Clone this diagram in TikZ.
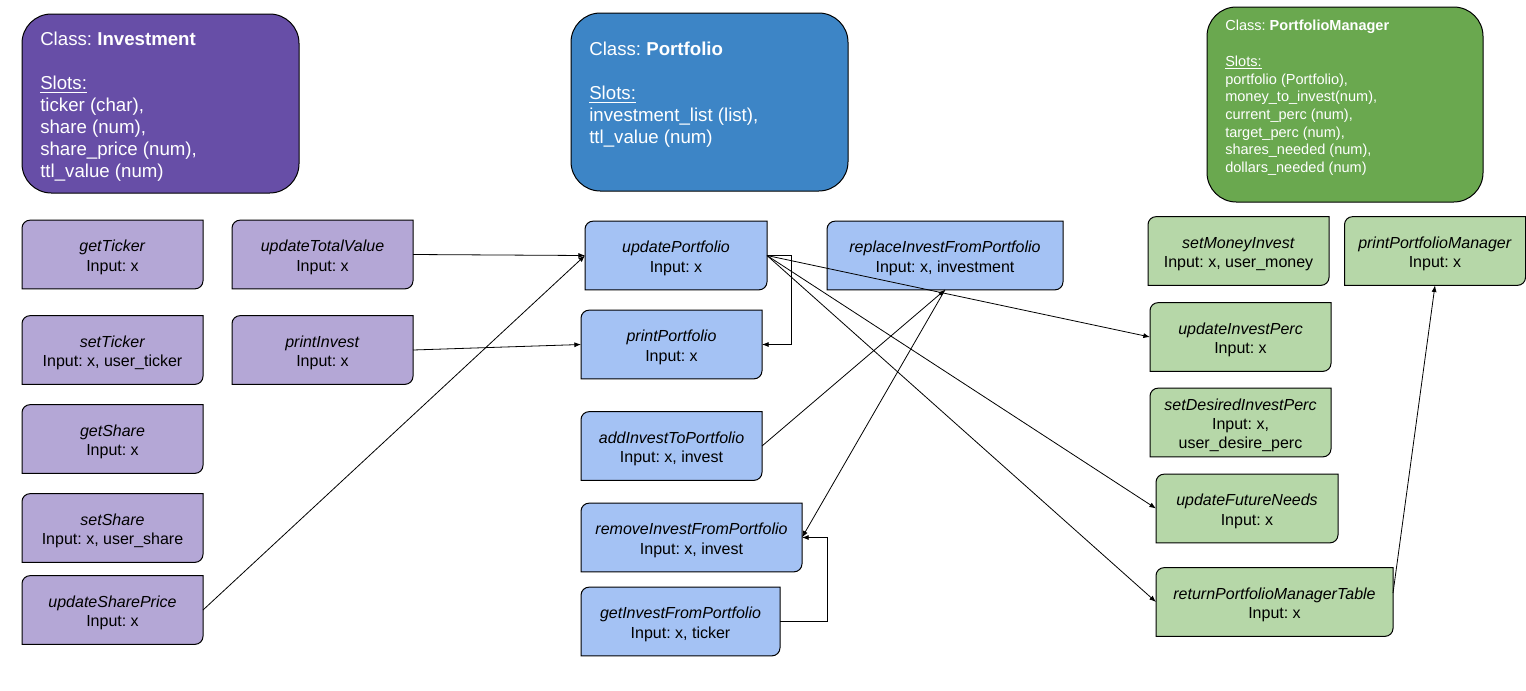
\documentclass[tikz,border=0pt]{standalone}
\usepackage{fontspec}
\setmainfont{Liberation Sans}
\usetikzlibrary{arrows.meta,backgrounds}
\frenchspacing

\definecolor{invdark}{HTML}{674EA7}
\definecolor{invlight}{HTML}{B4A7D6}
\definecolor{portdark}{HTML}{3D85C6}
\definecolor{portlight}{HTML}{A4C2F4}
\definecolor{mgrdark}{HTML}{6AA84F}
\definecolor{mgrlight}{HTML}{B6D7A8}

\newcommand{\methname}[1]{\rule{0pt}{13pt}\textit{#1}}

\tikzset{
    method/.style={align=center, inner sep=0pt, outer sep=0pt, minimum width=135.75pt, minimum height=51.5pt, font=\fontsize{12}{14.5}\selectfont},
    methshape/.style={draw=black, line width=0.75pt, fill=#1},
    classbox/.style={draw=black, line width=0.75pt, rounded corners=22pt, fill=#1, inner sep=0pt, outer sep=0pt},
    classtext/.style={align=left, anchor=north west, inner sep=0pt, text=white, font=\fontsize{14}{16.5}\selectfont},
    link/.style={-{Latex[length=5pt,width=3.8pt]}, line width=0.6pt}
}

\begin{document}
\begin{tikzpicture}[x=0.75pt,y=-0.75pt]
    \useasboundingbox (0,0) rectangle (1526,690);

    % classes
    \node[classbox=invdark, minimum width=207.75pt, minimum height=134.25pt] (investment) at (160.5,103.5) {};
    \node[classtext] (investmentText) at (40,32) {Class: \textbf{Investment}\\ \\ \underline{Slots:}\\ ticker (char),\\ share (num),\\ share\_price (num),\\ ttl\_value (num)};
    \node[classbox=portdark, minimum width=207.75pt, minimum height=133.5pt] (portfolio) at (709.5,102) {};
    \node[classtext] (portfolioText) at (589,42) {Class: \textbf{Portfolio}\\ \\ \underline{Slots:}\\ investment\_list (list),\\ ttl\_value (num)};
    \node[classbox=mgrdark, minimum width=207pt, minimum height=146.25pt] (manager) at (1345,104.5) {};
    \node[classtext, font=\fontsize{10.9}{13.3}\selectfont] (managerText) at (1225,20) {Class: \textbf{PortfolioManager}\\ \\ \underline{Slots:}\\ portfolio (Portfolio),\\ money\_to\_invest(num),\\ current\_perc (num),\\ target\_perc (num),\\ shares\_needed (num),\\ dollars\_needed (num)};

    % Investment methods
    \node[method] (getTicker) at (112.5,254.5) {\methname{getTicker}\\ Input: x};
    \node[method] (updateTotalValue) at (322.5,254.5) {\methname{updateTotalValue}\\ Input: x};
    \node[method] (setTicker) at (112.5,350) {\methname{setTicker}\\ Input: x, user\_ticker};
    \node[method] (printInvest) at (322.5,350) {\methname{printInvest}\\ Input: x};
    \node[method] (getShare) at (112.5,439) {\methname{getShare}\\ Input: x};
    \node[method] (setShare) at (112.5,528) {\methname{setShare}\\ Input: x, user\_share};
    \node[method] (updateSharePrice) at (112.5,610) {\methname{updateSharePrice}\\ Input: x};

    % Portfolio methods
    \node[method, minimum width=136.5pt] (updatePortfolio) at (676,255.5) {\methname{updatePortfolio}\\ Input: x};
    \node[method] (printPortfolio) at (671.5,344.5) {\methname{printPortfolio}\\ Input: x};
    \node[method, minimum width=177pt] (replaceInvest) at (945,255.5) {\methname{replaceInvestFromPortfolio}\\ Input: x, investment};
    \node[method] (addInvest) at (671.5,446) {\methname{addInvestToPortfolio}\\ Input: x, invest};
    \node[method, minimum width=165.75pt] (removeInvest) at (691.5,537.5) {\methname{removeInvestFromPortfolio}\\ Input: x, invest};
    \node[method, minimum width=149.25pt] (getInvest) at (680.5,621.5) {\methname{getInvestFromPortfolio}\\ Input: x, ticker};

    % PortfolioManager methods
    \node[method] (setMoneyInvest) at (1238.5,251) {\methname{setMoneyInvest}\\ Input: x, user\_money};
    \node[method] (printManager) at (1435,251) {\methname{printPortfolioManager}\\ Input: x};
    \node[method] (updateInvestPerc) at (1240.5,337) {\methname{updateInvestPerc}\\ Input: x};
    \node[method] (setDesiredPerc) at (1240.5,422.5) {\methname{setDesiredInvestPerc}\\ Input: x,\\ user\_desire\_perc};
    \node[method, minimum width=136.5pt] (updateFutureNeeds) at (1247,508.5) {\methname{updateFutureNeeds}\\ Input: x};
    \node[method, minimum width=177.75pt] (returnTable) at (1274.5,602) {\methname{returnPortfolioManagerTable}\\ Input: x};

    \begin{scope}[on background layer]
        \foreach \n/\c in {getTicker/invlight, updateTotalValue/invlight, setTicker/invlight, printInvest/invlight, getShare/invlight, setShare/invlight, updateSharePrice/invlight,
                updatePortfolio/portlight, printPortfolio/portlight, replaceInvest/portlight, addInvest/portlight, removeInvest/portlight, getInvest/portlight,
                setMoneyInvest/mgrlight, printManager/mgrlight, updateInvestPerc/mgrlight, setDesiredPerc/mgrlight, updateFutureNeeds/mgrlight, returnTable/mgrlight}
            \draw[methshape=\c] ([yshift=-6pt]\n.north west) arc[start angle=180, end angle=90, radius=6pt] -- (\n.north east)
                -- ([yshift=6pt]\n.south east) arc[start angle=0, end angle=-90, radius=6pt] -- (\n.south west) -- cycle;
    \end{scope}

    % calls
    \draw[link] (updateTotalValue.east) -- (updatePortfolio.west);
    \draw[link] (updateSharePrice.east) -- (updatePortfolio.west);
    \draw[link] (printInvest.east) -- (printPortfolio.west);
    \draw[link] (updatePortfolio.east) -- ++(24,0) |- (printPortfolio.east);
    \draw[link] (updatePortfolio.east) -- (updateInvestPerc.west);
    \draw[link] (updatePortfolio.east) -- (updateFutureNeeds.west);
    \draw[link] (updatePortfolio.east) -- (returnTable.west);
    \draw[link] (addInvest.east) -- (replaceInvest.south);
    \draw[link] (replaceInvest.south) -- (removeInvest.east);
    \draw[link] (getInvest.east) -- ++(47,0) |- (removeInvest.east);
    \draw[link] ([yshift=6.75pt]returnTable.east) -- (printManager.south);
\end{tikzpicture}
\end{document}
